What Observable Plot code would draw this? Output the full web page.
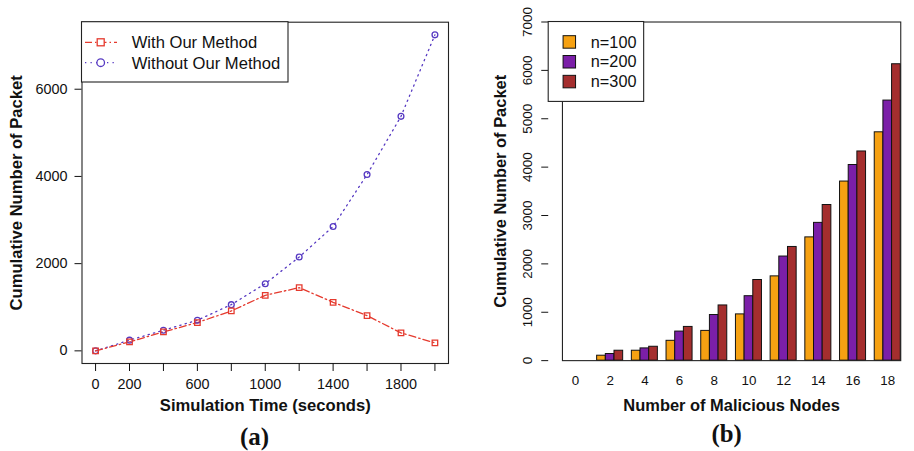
<!DOCTYPE html>
<html><head><meta charset="utf-8">
<script src="https://cdn.jsdelivr.net/npm/d3@7"></script>
<script src="https://cdn.jsdelivr.net/npm/@observablehq/plot@0.6"></script>
<style>
body{margin:0;background:#fff;}
#wrap{display:flex;width:914px;height:451px;overflow:hidden;background:#fff;}
#a{width:457px;height:451px;flex:none;}
#b{width:457px;height:451px;overflow:hidden;flex:none;}
svg{display:block;}
</style></head><body>
<div id="wrap"><div id="a"></div><div id="b"></div></div>
<script>
// ---- Panel (a) data ----
const times = [0, 200, 400, 600, 800, 1000, 1200, 1400, 1600, 1800, 2000];
const withMethod = [0, 206, 435, 648, 915, 1274, 1449, 1114, 808, 412, 183];
const withoutMethod = [0, 245, 473, 702, 1060, 1540, 2151, 2853, 4043, 5378, 7247];
const seriesA = ["With Our Method", "Without Our Method"];
const xTicksA = [0, 200, 400, 600, 800, 1000, 1200, 1400, 1600, 1800, 2000];
const xLabelsA = [0, 200, 600, 1000, 1400, 1800];
const yTicksA = [0, 2000, 4000, 6000];

// ---- Panel (b) data ----
const nodes = [0, 2, 4, 6, 8, 10, 12, 14, 16, 18];
const n100 = [0, 102, 205, 410, 615, 956, 1742, 2548, 3702, 4720];
const n200 = [0, 137, 253, 601, 943, 1332, 2152, 2848, 4044, 5376];
const n300 = [0, 205, 287, 697, 1141, 1667, 2350, 3217, 4324, 6127];
const seriesB = ["n=100", "n=200", "n=300"];
const yTicksB = [0, 1000, 2000, 3000, 4000, 5000, 6000, 7000];

const font = "'Liberation Sans', Arial, Helvetica, sans-serif";
const serif = "'Liberation Serif', 'Times New Roman', serif";
const red = "#e53a2e", blue = "#5639c2";
const barColors = ["#f6a112", "#7b1fa8", "#a42e2e"];

const rowsWith = times.map((t, i) => ({t, v: withMethod[i], s: seriesA[0]}));
const rowsWithout = times.map((t, i) => ({t, v: withoutMethod[i], s: seriesA[1]}));

const plotA = Plot.plot({
  width: 457, height: 451,
  marginLeft: 81.5, marginRight: 9, marginTop: 21.7, marginBottom: 88,
  style: {fontFamily: font, background: "#fff", color: "#111", overflow: "visible"},
  x: {domain: [-80, 2080]},
  y: {domain: [-290, 7537]},
  marks: [
    Plot.frame({stroke: "#222", strokeWidth: 1.1}),
    Plot.axisY({ticks: yTicksA, tickSize: 7, tickPadding: 7.5, fontSize: 14.4, label: null, tickFormat: d => String(d)}),
    Plot.axisX({ticks: xTicksA, tickSize: 8, tickPadding: 6.8, fontSize: 14.4, label: null,
      tickFormat: d => xLabelsA.includes(d) ? String(d) : ""}),
    Plot.line(rowsWithout, {x: "t", y: "v", stroke: blue, strokeWidth: 1.3, strokeDasharray: "1.3,4.2"}),
    Plot.line(rowsWith, {x: "t", y: "v", stroke: red, strokeWidth: 1.3, strokeDasharray: "7,3,1.5,3"}),
    Plot.dot(rowsWithout, {x: "t", y: "v", r: 2.9, stroke: blue, strokeWidth: 1.3, fill: "none"}),
    Plot.dot(rowsWith, {x: "t", y: "v", symbol: "square", r: 3.1, stroke: red, strokeWidth: 1.3, fill: "none"}),
    Plot.text(["Cumulative Number of Packet"], {frameAnchor: "left", dx: -65.5, rotate: -90, textAnchor: "middle",
      lineAnchor: "middle", fontSize: 16.6, fontWeight: "bold", fill: "#111"}),
    Plot.text(["Simulation Time (seconds)"], {frameAnchor: "bottom", dy: 42, textAnchor: "middle",
      lineAnchor: "middle", fontSize: 16.6, fontWeight: "bold", fill: "#111"}),
    Plot.text(["(a)"], {frameAnchor: "bottom", dy: 73, dx: -10.7, textAnchor: "middle", lineAnchor: "middle",
      fontSize: 25, fontWeight: "bold", fontFamily: serif, fill: "#111"})
  ]
});
document.getElementById("a").appendChild(plotA);

// legend (a)
{
  const svg = d3.select(plotA);
  const g = svg.append("g").attr("text-anchor", "start");
  g.append("rect").attr("x", 81.5).attr("y", 21.7).attr("width", 206.5).attr("height", 60.3)
    .attr("fill", "#fff").attr("stroke", "#222").attr("stroke-width", 1.1);
  const styles = [
    {color: red, dash: "7,3,1.5,3", sym: "square"},
    {color: blue, dash: "1.3,4.2", sym: "circle"}
  ];
  seriesA.forEach((name, i) => {
    const y = 42.3 + i * 20.4;
    const st = styles[i];
    g.append("line").attr("x1", 85).attr("x2", 117).attr("y1", y).attr("y2", y)
      .attr("stroke", st.color).attr("stroke-width", 1.3).attr("stroke-dasharray", st.dash);
    if (st.sym === "square") {
      g.append("rect").attr("x", 100.7 - 3.5).attr("y", y - 3.5).attr("width", 7).attr("height", 7)
        .attr("fill", "#fff").attr("stroke", st.color).attr("stroke-width", 1.3);
    } else {
      g.append("circle").attr("cx", 100.7).attr("cy", y).attr("r", 3.8)
        .attr("fill", "#fff").attr("stroke", st.color).attr("stroke-width", 1.3);
    }
    g.append("text").attr("x", 131.7).attr("y", y).attr("dy", "0.35em").attr("text-anchor", "start")
      .attr("font-size", 16.6).attr("font-family", font).attr("fill", "#111").text(name);
  });
}

// ---- Panel (b) ----
const vals = [n100, n200, n300];
const rowsB = nodes.flatMap((n, i) => seriesB.map((s, j) => ({n, s, v: vals[j][i]})));

const widthB = 461, marginLeftB = 92, padIn = 0.25, padOut = 0.396;
const stepB = (widthB - marginLeftB) / (nodes.length - padIn + 2 * padOut);
const facetOffset = padOut * stepB; // distance from frame left to first facet

const plotB = Plot.plot({
  width: widthB, height: 451,
  marginLeft: marginLeftB, marginRight: 0, marginTop: 21.7, marginBottom: 87.7,
  style: {fontFamily: font, background: "#fff", color: "#111", overflow: "visible"},
  fx: {domain: nodes, paddingInner: padIn, paddingOuter: padOut, round: false, axis: null, label: null},
  x: {domain: seriesB, padding: 0, round: false, axis: null},
  y: {domain: [0, 7000], axis: null},
  color: {domain: seriesB, range: barColors},
  marks: [
    Plot.barY(rowsB, {fx: "n", x: "s", y: "v", fill: "s", stroke: "#111", strokeWidth: 1}),
    Plot.frame({facet: "super", stroke: "#222", strokeWidth: 1.1}),
    Plot.axisY({ticks: yTicksB, tickSize: 7, tickRotate: -90, tickPadding: 14.3, textAnchor: "middle",
      lineAnchor: "middle", dx: -facetOffset, fontSize: 13.5, label: null, tickFormat: d => String(d)}),
    Plot.axisFx({anchor: "bottom", tickSize: 0, tickPadding: 14.7, fontSize: 13.5, label: null}),
    Plot.text(["Cumulative Number of Packet"], {facet: "super", frameAnchor: "left", dx: -48.7 - facetOffset, rotate: -90,
      textAnchor: "middle", lineAnchor: "middle", fontSize: 16.6, fontWeight: "bold", fill: "#111"}),
    Plot.text(["Number of Malicious Nodes"], {facet: "super", frameAnchor: "bottom", dy: 45.7, textAnchor: "middle",
      lineAnchor: "middle", fontSize: 16.6, fontWeight: "bold", fill: "#111"}),
    Plot.text(["(b)"], {facet: "super", frameAnchor: "bottom", dy: 73.7, dx: -5, textAnchor: "middle",
      lineAnchor: "middle", fontSize: 25, fontWeight: "bold", fontFamily: serif, fill: "#111"})
  ]
});
document.getElementById("b").appendChild(plotB);

// legend (b)
{
  const svg = d3.select(plotB);
  const g = svg.append("g").attr("text-anchor", "start");
  g.append("rect").attr("x", 92).attr("y", 21.7).attr("width", 96.3).attr("height", 80.6)
    .attr("fill", "#fff").attr("stroke", "#222").attr("stroke-width", 1.1);
  seriesB.forEach((name, i) => {
    const y = 42.3 + i * 20;
    g.append("rect").attr("x", 113.3 - 6.3).attr("y", y - 6.3).attr("width", 12.6).attr("height", 12.6)
      .attr("fill", barColors[i]).attr("stroke", "#111").attr("stroke-width", 1);
    g.append("text").attr("x", 135).attr("y", y).attr("dy", "0.35em").attr("text-anchor", "start")
      .attr("font-size", 16.4).attr("font-family", font).attr("fill", "#111").text(name);
  });
}
</script>
</body></html>
